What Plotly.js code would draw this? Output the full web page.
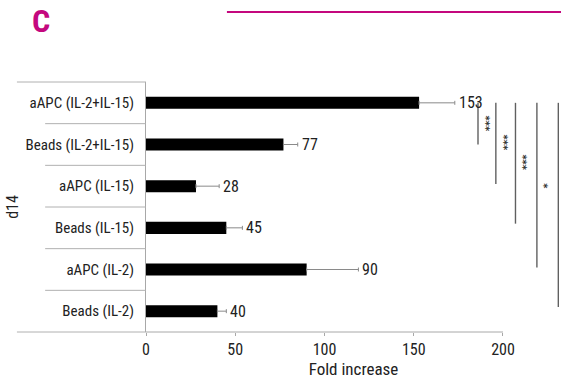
<!DOCTYPE html>
<html>
<head>
<meta charset="utf-8">
<script src="https://cdn.plot.ly/plotly-3.0.1.min.js"></script>
<style>html,body{margin:0;padding:0;background:#fff}#chart{width:561px;height:380px}</style>
</head>
<body>
<div id="chart"></div>
<script>
// Categories bottom-to-top
var categories = ['Beads (IL-2)', 'aAPC (IL-2)', 'Beads (IL-15)', 'aAPC (IL-15)', 'Beads (IL-2+IL-15)', 'aAPC (IL-2+IL-15)'];
var foldIncrease = [40, 90, 45, 28, 77, 153];
var errorPlus = [5, 29, 9, 13, 8, 20];
var valueLabels = ['40', '90', '45', '28', '77', '153'];
var xTickVals = [0, 50, 100, 150, 200];
// Significance brackets: from category (top) to category, marker text
var sigFrom = [5, 5, 5, 5, 5];
var sigTo = [4, 3.05, 2.1, 1.05, 0.1];
var sigX = [186, 196, 207, 219, 231];
var sigText = ['***', '***', '***', '*', ''];
var sigTextX = [190, 200.5, 211, 223, 0];
var sigTextY = [4.5, 4.05, 3.58, 3.0, 0];

var FONT = 'Roboto Condensed, Liberation Sans Narrow, sans-serif';
var MAG = '#C4087E';
var TXT = '#222';

var trace = {
  type: 'bar', orientation: 'h',
  y: categories, x: foldIncrease,
  marker: {color: '#000'},
  width: 0.29,
  error_x: {type: 'data', symmetric: false, array: errorPlus, arrayminus: errorPlus.map(function(){return 0;}),
            color: '#8a8a8a', thickness: 1, width: 2},
  hoverinfo: 'none'
};

var shapes = [];
shapes.push({type: 'line', xref: 'x', yref: 'paper', x0: 0, x1: xTickVals[xTickVals.length-1], y0: 0, y1: 0,
             line: {color: '#a8a8a8', width: 1}});
for (var k = 0; k <= categories.length; k++) {
  var outer = (k === 0 || k === categories.length);
  shapes.push({type: 'line', xref: 'paper', yref: 'paper', x0: outer ? -0.311 : -0.243, x1: 0,
               y0: k/categories.length, y1: k/categories.length,
               line: {color: '#b0b0b0', width: 1}});
}
for (var i = 0; i < sigX.length; i++) {
  shapes.push({type: 'line', xref: 'x', yref: 'y', x0: sigX[i], x1: sigX[i], y0: sigFrom[i], y1: sigTo[i],
               line: {color: '#606060', width: 1.4}});
}
shapes.push({type: 'line', xref: 'paper', yref: 'paper', x0: 0.195, x1: 1.0, y0: 1.28, y1: 1.28,
             line: {color: MAG, width: 2}});

var annotations = [];
for (var j = 0; j < categories.length; j++) {
  annotations.push({x: foldIncrease[j] + errorPlus[j], y: categories[j], xref: 'x', yref: 'y',
    text: valueLabels[j], showarrow: false, xanchor: 'left', xshift: 2,
    font: {family: FONT, size: 16, color: TXT}});
}
for (var s = 0; s < sigText.length; s++) {
  if (!sigText[s]) continue;
  annotations.push({x: sigTextX[s], y: sigTextY[s], xref: 'x', yref: 'y', text: '<b>' + sigText[s] + '</b>', textangle: 90,
    showarrow: false, font: {family: 'DejaVu Sans', size: 10, color: '#333'}});
}
annotations.push({x: -0.253, y: 1.244, xref: 'paper', yref: 'paper', xanchor: 'center', yanchor: 'middle',
  text: '<b>C</b>', showarrow: false, font: {family: FONT, size: 32, color: MAG}});

var layout = {
  width: 561, height: 380,
  margin: {l: 146, r: 0, t: 82, b: 48},
  paper_bgcolor: '#fff', plot_bgcolor: '#fff',
  showlegend: false,
  font: {family: FONT, size: 15, color: TXT},
  xaxis: {range: [0, 232.5], tickvals: xTickVals, ticks: 'outside', ticklen: 3, tickcolor: '#a8a8a8',
          showline: false, showgrid: false, zeroline: false, fixedrange: true,
          tickfont: {family: FONT, size: 16, color: TXT},
          title: {text: 'Fold increase', font: {family: FONT, size: 17, color: TXT}, standoff: 2}},
  yaxis: {type: 'category', categoryorder: 'array', categoryarray: categories, range: [-0.5, 5.5],
          showline: true, linecolor: '#a8a8a8', linewidth: 1, ticks: '', showgrid: false, zeroline: false,
          ticklabelstandoff: 8, tickfont: {family: FONT, size: 15, color: TXT},
          title: {text: 'd14', font: {family: FONT, size: 16, color: TXT}, standoff: 2}},
  shapes: shapes,
  annotations: annotations
};

Plotly.newPlot('chart', [trace], layout, {staticPlot: true, displayModeBar: false});
</script>
</body>
</html>
